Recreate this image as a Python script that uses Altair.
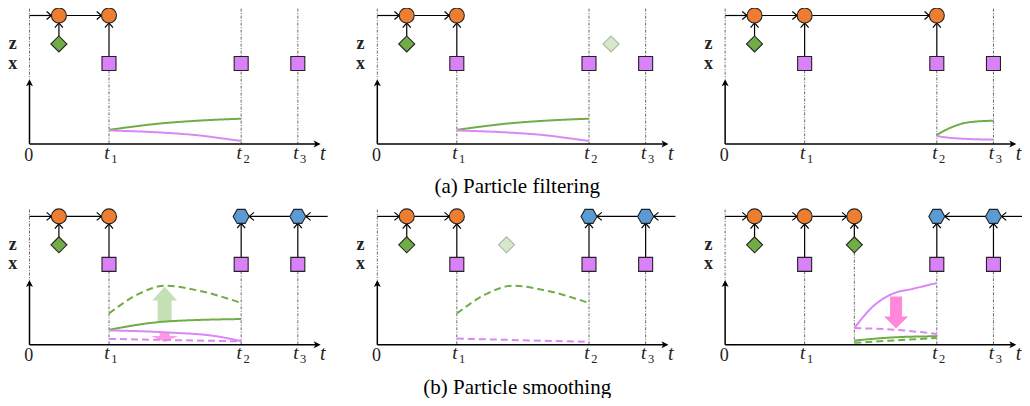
import altair as alt
import pandas as pd

# ------------------------------------------------------------------ data
PANEL_NAMES = ["a1", "a2", "a3", "b1", "b2", "b3"]
PANEL_ROW = [0, 0, 0, 1, 1, 1]
PANEL_COL = [0, 1, 2, 0, 1, 2]

# time stamps (in units of the first observation time t1)
T1, T2, T3 = 1.0, 2.6625, 3.375
T_Z0 = 0.37        # first latent step
T_MID = 1.625      # extra latent step (panel b3)
T_AXIS_END = 3.6625
T_INCOMING = 3.75  # start of the backward chain arrow

CIRCLE_TIMES = {"a1": [T_Z0, T1], "a2": [T_Z0, T1], "a3": [T_Z0, T1, T2],
                "b1": [T_Z0, T1], "b2": [T_Z0, T1], "b3": [T_Z0, T1, T_MID]}
HEX_TIMES = {"b1": [T2, T3], "b2": [T2, T3], "b3": [T2, T3]}
DIAMOND_TIMES = {"a1": [T_Z0], "a2": [T_Z0], "a3": [T_Z0],
                 "b1": [T_Z0], "b2": [T_Z0], "b3": [T_Z0, T_MID]}
FADED_DIAMOND_TIMES = {"a2": [2.94], "b2": [1.625]}
SQUARE_TIMES = [T1, T2, T3]

# curves: panel, colour, dashed, times, values
CURVES = [
    ("a1", "green", "solid", [1.0, 1.71, 2.125, 2.6625], [14.3, 21.3, 23.7, 25.7]),
    ("a1", "pink", "solid", [1.0, 1.71, 2.125, 2.45, 2.6625], [13.7, 11.3, 8.7, 5.3, 3.0]),
    ("a2", "green", "solid", [1.0, 1.71, 2.125, 2.6625], [14.3, 21.3, 23.7, 25.7]),
    ("a2", "pink", "solid", [1.0, 1.71, 2.125, 2.45, 2.6625], [13.7, 11.3, 8.7, 5.3, 3.0]),
    ("a3", "green", "solid", [2.6625, 2.85, 3.0625, 3.375], [9.3, 17.0, 22.0, 23.7]),
    ("a3", "pink", "solid", [2.6625, 2.85, 3.375], [8.0, 6.0, 4.3]),
    ("b1", "green", "dashed", [1.0, 1.375, 1.71, 2.125, 2.6625], [32.0, 52.0, 60.3, 55.3, 42.7]),
    ("b1", "green", "solid", [1.0, 1.71, 2.6625], [15.3, 23.7, 26.3]),
    ("b1", "pink", "solid", [1.0, 1.71, 2.35, 2.6625], [14.7, 12.7, 8.7, 3.7]),
    ("b1", "pink", "dashed", [1.0, 2.6625], [6.0, 3.5]),
    ("b2", "green", "dashed", [1.0, 1.375, 1.71, 2.125, 2.6625], [32.0, 52.0, 60.3, 55.3, 42.7]),
    ("b2", "pink", "dashed", [1.0, 2.6625], [6.3, 3.0]),
    ("b3", "pink", "solid", [1.625, 1.854, 2.104, 2.354, 2.6625], [17.0, 38.7, 52.0, 57.0, 63.0]),
    ("b3", "pink", "dashed", [1.625, 2.15, 2.6625], [17.0, 15.3, 11.0]),
    ("b3", "green", "solid", [1.625, 2.15, 2.6625], [4.3, 7.7, 8.7]),
    ("b3", "green", "dashed", [1.625, 2.6625], [2.0, 7.0]),
]

# big update arrows: panel, time, centre value, kind
BIG_ARROWS = [
    ("b1", 1.7, 41.5, "up"),
    ("b1", 1.7, 8.0, "down_small"),
    ("b3", 2.15, 33.0, "down"),
]

CAPTIONS = ["(a) Particle filtering", "(b) Particle smoothing"]

# ------------------------------------------------------------------ layout / style
COL_STEP = 4.375
ROW_STEP = 205.0
LV_CHAIN, LV_DIAMOND, LV_SQUARE, LV_TOP, LV_AXIS = 131.0, 102.0, 82.0, 138.0, 66.0
R_CIRCLE, R_HEX, R_DIAMOND, R_SQUARE = 7.5, 7.0, 8.0, 7.0
PX_PER_T = 79.5

ORANGE, BLUE, GREEN, PURPLE = "#ED7D31", "#5B9BD5", "#70AD47", "#D982F7"
PINK_CURVE, PINK_ARROW, LIGHT_GREEN = "#DA88F5", "#FF88D8", "#C5E0B4"
SERIF = "Liberation Serif"

CHEVRON = "M-1.2,-1 L0,0 L-1.2,1"
AXIS_HEAD = "M0,0 L-1,-0.5 L-0.75,0 L-1,0.5 Z"
HEXAGON = "M-1,0 L-0.5,-0.875 L0.5,-0.875 L1,0 L0.5,0.875 L-0.5,0.875 Z"
ARROW_UP = "M0,-1 L0.71,-0.2 L0.4,-0.2 L0.4,1 L-0.4,1 L-0.4,-0.2 L-0.71,-0.2 Z"
ARROW_DOWN = "M0,1 L0.75,0.25 L0.375,0.25 L0.375,-1 L-0.375,-1 L-0.375,0.25 L-0.75,0.25 Z"
ARROW_DOWN_SMALL = "M0,0.37 L1,-0.07 L0.37,-0.07 L0.37,-0.37 L-0.37,-0.37 L-0.37,-0.07 L-1,-0.07 Z"

PANEL = {p: (r, c) for p, r, c in zip(PANEL_NAMES, PANEL_ROW, PANEL_COL)}


def gx(p, t):
    return PANEL[p][1] * COL_STEP + t


def gy(p, v):
    return v - PANEL[p][0] * ROW_STEP


XS = alt.Scale(domain=[-0.2704, 12.484], nice=False, zero=False)
YS = alt.Scale(domain=[-259.3, 138.65], nice=False, zero=False)


def X(f="X"):
    return alt.X(f"{f}:Q", scale=XS, axis=None)


def Y(f="Y"):
    return alt.Y(f"{f}:Q", scale=YS, axis=None)


# ------------------------------------------------------------------ build tables
nodes = {k: [] for k in ["circle", "hex", "diamond", "faded", "square"]}
edges, heads, dots, axes_rules, axes_heads, texts = [], [], [], [], [], []

for p in PANEL_NAMES:
    circ = CIRCLE_TIMES[p]
    hexes = HEX_TIMES.get(p, [])
    for t in circ:
        nodes["circle"].append({"X": gx(p, t), "Y": gy(p, LV_CHAIN)})
    for t in hexes:
        nodes["hex"].append({"X": gx(p, t), "Y": gy(p, LV_CHAIN)})
    for t in DIAMOND_TIMES[p]:
        nodes["diamond"].append({"X": gx(p, t), "Y": gy(p, LV_DIAMOND)})
    for t in FADED_DIAMOND_TIMES.get(p, []):
        nodes["faded"].append({"X": gx(p, t), "Y": gy(p, LV_DIAMOND)})
    for t in SQUARE_TIMES:
        nodes["square"].append({"X": gx(p, t), "Y": gy(p, LV_SQUARE)})

    rc = R_CIRCLE / PX_PER_T
    rh = 8.0 / PX_PER_T

    def hedge(t0, t1, ang):
        edges.append({"X": gx(p, t0), "X2": gx(p, t1), "Y": gy(p, LV_CHAIN), "Y2": gy(p, LV_CHAIN)})
        heads.append({"X": gx(p, t1), "Y": gy(p, LV_CHAIN), "a": ang})

    def vedge(t, v0, v1):
        edges.append({"X": gx(p, t), "X2": gx(p, t), "Y": gy(p, v0), "Y2": gy(p, v1)})
        heads.append({"X": gx(p, t), "Y": gy(p, v1), "a": 270})

    hedge(0.0, circ[0] - rc, 0)
    for a, b in zip(circ, circ[1:]):
        hedge(a + rc, b - rc, 0)
    if hexes:
        hedge(T_INCOMING, hexes[-1] + rh, 180)
        for a, b in zip(hexes, hexes[1:]):
            hedge(b - rh, a + rh, 180)
    for t in DIAMOND_TIMES[p]:
        vedge(t, LV_DIAMOND + R_DIAMOND, LV_CHAIN - R_CIRCLE)
    for t in SQUARE_TIMES:
        if t in circ:
            vedge(t, LV_SQUARE + R_SQUARE, LV_CHAIN - R_CIRCLE)
        elif t in hexes:
            vedge(t, LV_SQUARE + R_SQUARE, LV_CHAIN - R_HEX)

    # dash-dotted time guides
    dots.append({"X": gx(p, 0.0), "Y": gy(p, LV_TOP), "Y2": gy(p, LV_AXIS)})
    for t in SQUARE_TIMES:
        top = LV_SQUARE - R_SQUARE if (t in circ or t in hexes) else LV_TOP
        dots.append({"X": gx(p, t), "Y": gy(p, top), "Y2": gy(p, 0.0)})
    for t in DIAMOND_TIMES[p]:
        if t == T_MID:
            dots.append({"X": gx(p, t), "Y": gy(p, LV_DIAMOND - R_DIAMOND), "Y2": gy(p, 0.0)})

    # axes
    axes_rules.append({"X": gx(p, 0.0), "X2": gx(p, T_AXIS_END - 0.06), "Y": gy(p, 0.0), "Y2": gy(p, 0.0)})
    axes_rules.append({"X": gx(p, 0.0), "X2": gx(p, 0.0), "Y": gy(p, 0.0), "Y2": gy(p, LV_AXIS - 4)})
    axes_heads.append({"X": gx(p, T_AXIS_END), "Y": gy(p, 0.0), "a": 0})
    axes_heads.append({"X": gx(p, 0.0), "Y": gy(p, LV_AXIS), "a": 270})

    # texts
    texts.append({"X": gx(p, -0.21), "Y": gy(p, LV_DIAMOND), "s": "z", "k": "var"})
    texts.append({"X": gx(p, -0.21), "Y": gy(p, LV_SQUARE), "s": "x", "k": "var"})
    texts.append({"X": gx(p, -0.01), "Y": gy(p, -17), "s": "0", "k": "num"})
    for i, t in enumerate(SQUARE_TIMES):
        texts.append({"X": gx(p, t - 0.025), "Y": gy(p, -15), "s": "t", "k": "it"})
        texts.append({"X": gx(p, t + 0.068), "Y": gy(p, -19), "s": str(i + 1), "k": "sub"})
    texts.append({"X": gx(p, 3.69), "Y": gy(p, -16), "s": "t", "k": "axis"})

curve_rows = []
for ci, (p, colr, dash, ts, vs) in enumerate(CURVES):
    for i, (t, v) in enumerate(zip(ts, vs)):
        curve_rows.append({"cid": ci, "i": i, "X": gx(p, t), "Y": gy(p, v),
                           "color": GREEN if colr == "green" else PINK_CURVE, "dash": dash})
curves_df = pd.DataFrame(curve_rows)

big_df = pd.DataFrame([{"X": gx(p, t), "Y": gy(p, v), "k": k} for p, t, v, k in BIG_ARROWS])
cap_df = pd.DataFrame([{"X": COL_STEP + 1.76, "Y": -44.0 - r * ROW_STEP, "s": s}
                       for r, s in enumerate(CAPTIONS)])

D = {k: pd.DataFrame(v) for k, v in nodes.items()}
edges_df, heads_df = pd.DataFrame(edges), pd.DataFrame(heads)
dots_df, ax_df, axh_df = pd.DataFrame(dots), pd.DataFrame(axes_rules), pd.DataFrame(axes_heads)
text_df = pd.DataFrame(texts)

# ------------------------------------------------------------------ layers
layers = []
layers.append(alt.Chart(dots_df).mark_rule(color="#444", strokeWidth=0.8, strokeDash=[3, 1.5, 1, 1.5])
              .encode(x=X(), y=Y(), y2="Y2:Q"))

arrow_styles = {"up": (ARROW_UP, 1225, LIGHT_GREEN, 1.0),
                "down": (ARROW_DOWN, 1024, PINK_ARROW, 1.0),
                "down_small": (ARROW_DOWN_SMALL, 729, PINK_ARROW, 0.85)}
for k, (shape, size, col, op) in arrow_styles.items():
    layers.append(alt.Chart(big_df[big_df.k == k]).mark_point(
        shape=shape, size=size, filled=True, color=col, opacity=op, strokeWidth=0)
        .encode(x=X(), y=Y()))

layers.append(alt.Chart(curves_df).mark_line(strokeWidth=2, interpolate="monotone").encode(
    x=X(), y=Y(), detail="cid:N", order="i:Q",
    color=alt.Color("color:N", scale=None),
    strokeDash=alt.StrokeDash("dash:N", scale=alt.Scale(domain=["solid", "dashed"], range=[[1, 0], [7, 4]]),
                              legend=None)))

layers.append(alt.Chart(ax_df).mark_rule(color="black", strokeWidth=1.5)
              .encode(x=X(), x2="X2:Q", y=Y(), y2="Y2:Q"))
layers.append(alt.Chart(axh_df).mark_point(shape=AXIS_HEAD, size=196, filled=True, color="black", opacity=1)
              .encode(x=X(), y=Y(), angle=alt.Angle("a:Q", scale=None)))
layers.append(alt.Chart(edges_df).mark_rule(color="black", strokeWidth=1.2)
              .encode(x=X(), x2="X2:Q", y=Y(), y2="Y2:Q"))
layers.append(alt.Chart(heads_df).mark_point(shape=CHEVRON, size=64, filled=False, color="black",
                                              strokeWidth=1.2, opacity=1)
              .encode(x=X(), y=Y(), angle=alt.Angle("a:Q", scale=None)))

node_styles = {"circle": ("circle", 225, ORANGE, "#222", 1),
               "hex": (HEXAGON, 256, BLUE, "#222", 1),
               "diamond": ("diamond", 256, GREEN, "#222", 1),
               "faded": ("diamond", 256, "#D6E7CC", "#A8B8A0", 1),
               "square": ("square", 196, PURPLE, "#222", 1)}
for k, (shape, size, fill, stroke, op) in node_styles.items():
    layers.append(alt.Chart(D[k]).mark_point(shape=shape, size=size, filled=True, fill=fill, stroke=stroke,
                                             strokeWidth=1.1, opacity=op, fillOpacity=1, strokeOpacity=1)
                  .encode(x=X(), y=Y()))

text_styles = {"var": dict(fontSize=18, fontWeight="bold", baseline="middle"),
               "num": dict(fontSize=18, baseline="alphabetic"),
               "it": dict(fontSize=19, fontStyle="italic", baseline="alphabetic"),
               "sub": dict(fontSize=12.5, baseline="alphabetic"),
               "axis": dict(fontSize=20, fontStyle="italic", baseline="alphabetic")}
for k, st in text_styles.items():
    layers.append(alt.Chart(text_df[text_df.k == k]).mark_text(font=SERIF, color="#222", align="center", **st)
                  .encode(x=X(), y=Y(), text="s:N"))

layers.append(alt.Chart(cap_df).mark_text(font=SERIF, fontSize=21, color="black", align="center",
                                          baseline="middle")
              .encode(x=X(), y=Y(), text="s:N"))

chart = alt.layer(*layers).properties(
    width=1014, height=390, padding=0,
    autosize=alt.AutoSizeParams(type="none"),
    background="white",
).configure_view(stroke=None)

chart.save("out.html", embed_options={"renderer": "svg", "actions": False})
